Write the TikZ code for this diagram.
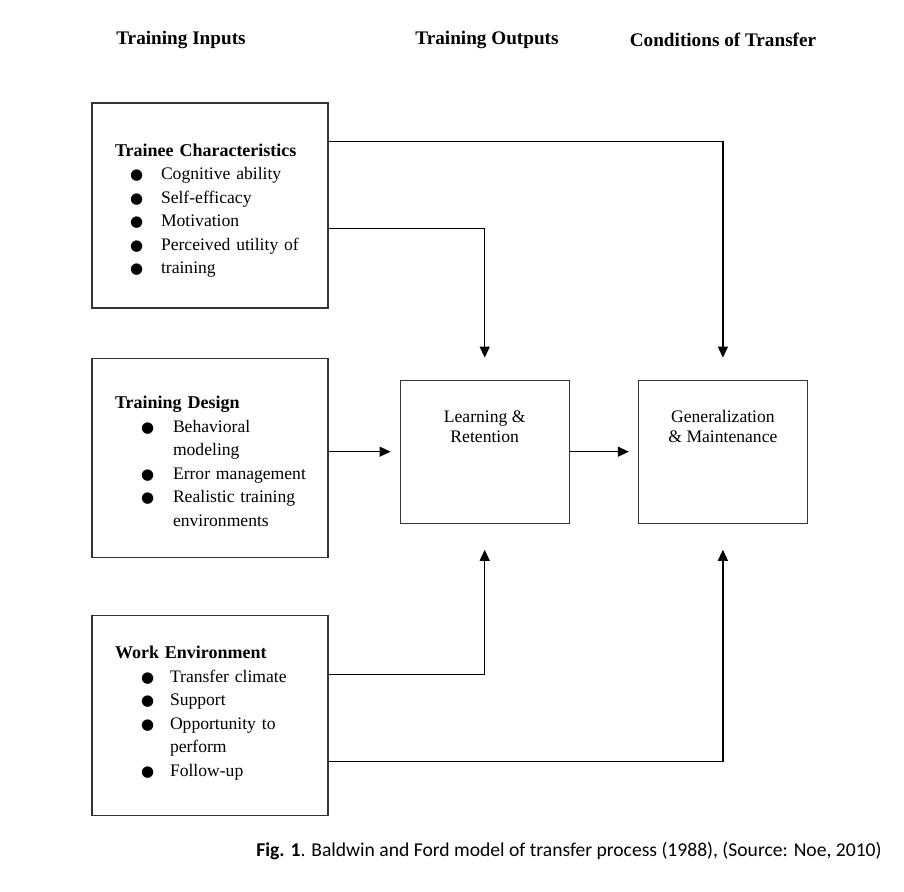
\documentclass[tikz,border=0pt]{standalone}
\usepackage{fontspec}
\setmainfont{Liberation Serif}
\newfontfamily\capfont{Carlito}
\newfontfamily\dotfont{DejaVu Sans}
\usetikzlibrary{positioning,arrows.meta}
\newcommand{\Bul}[3]{\mbox{\hspace*{#1}\makebox[#2][l]{\dotfont\fontsize{7.5}{7.5}\selectfont ●}#3}}
\newcommand{\Cont}[3]{\mbox{\hspace*{#1}\hspace*{#2}#3}}
\newcommand{\Head}[2]{\mbox{\rule{0pt}{#1}\bfseries\fontsize{9}{11.75}\selectfont #2}}

\tikzset{
  inbox/.style={draw=black!80, line width=0.6pt, minimum width=118pt, text width=95pt,
    inner xsep=11.5pt, align=left, font=\fontsize{8.8}{11.75}\selectfont},
  outbox/.style={draw=black!80, line width=0.6pt, minimum width=84.5pt, minimum height=71.5pt},
  outtext/.style={anchor=north, align=center, yshift=-12pt, font=\fontsize{8.8}{10}\selectfont},
  head/.style={font=\bfseries\fontsize{9.6}{11}\selectfont},
  arr/.style={-{Triangle[length=5.5pt,width=5pt]}, line width=0.6pt},
}

\begin{document}
\begin{tikzpicture}
  \useasboundingbox (0,0) rectangle (452pt,-446pt);

  % Column heads
  \node[head] (hin)  at (90.5pt,-20pt)  {Training Inputs};
  \node[head] (hout) at (243.5pt,-20pt) {Training Outputs};
  \node[head] (hcon) at (361.5pt,-20pt) {Conditions of Transfer};

  % Training inputs
  \node[inbox, minimum height=102.5pt] (TC) at (105pt,-102.75pt)
    {\Head{11.5pt}{Trainee Characteristics}\\
     \Bul{7.5pt}{15.5pt}{Cognitive ability}\\
     \Bul{7.5pt}{15.5pt}{Self-efficacy}\\
     \Bul{7.5pt}{15.5pt}{Motivation}\\
     \Bul{7.5pt}{15.5pt}{Perceived utility of}\\
     \Bul{7.5pt}{15.5pt}{training}};
  \node[inbox, minimum height=99.5pt, below=24.5pt of TC] (TD)
    {\Head{10pt}{Training Design}\\
     \Bul{13pt}{16pt}{Behavioral}\\
     \Cont{13pt}{16pt}{modeling}\\
     \Bul{13pt}{16pt}{Error management}\\
     \Bul{13pt}{16pt}{Realistic training}\\
     \Cont{13pt}{16pt}{environments}};
  \node[inbox, minimum height=100pt, below=28.5pt of TD] (WE)
    {\Head{0pt}{Work Environment}\\
     \Bul{13pt}{14.5pt}{Transfer climate}\\
     \Bul{13pt}{14.5pt}{Support}\\
     \Bul{13pt}{14.5pt}{Opportunity to}\\
     \Cont{13pt}{14.5pt}{perform}\\
     \Bul{13pt}{14.5pt}{Follow-up\rule[-4pt]{0pt}{4pt}}};

  % Outputs and transfer
  \node[outbox, right=35.5pt of TD, yshift=3pt,
    label={[outtext]north:{Learning \&\\Retention}}] (LR) {};
  \node[outbox, right=34pt of LR,
    label={[outtext]north:{Generalization\\\& Maintenance}}] (GM) {};

  % Connect the nodes
  \draw[arr, shorten >=11pt] ([yshift=-19.5pt]TC.north east) -| (GM.north);
  \draw[arr, shorten >=11pt] ([yshift=-63pt]TC.north east) -| (LR.north);
  \draw[arr, shorten >=4.5pt] (LR.west -| TD.east) -- (LR.west);
  \draw[arr, shorten >=4.5pt] (LR) -- (GM);
  \draw[arr, shorten >=13pt] ([yshift=-30pt]WE.north east) -| (LR.south);
  \draw[arr, shorten >=13pt] ([yshift=-73.5pt]WE.north east) -| (GM.south);

  % Caption
  \node[font=\capfont\fontsize{9.8}{12}\selectfont] (cap) at (284.5pt,-425.5pt)
    {\textbf{Fig. 1}. Baldwin and Ford model of transfer process (1988), (Source: Noe, 2010)};
\end{tikzpicture}
\end{document}
